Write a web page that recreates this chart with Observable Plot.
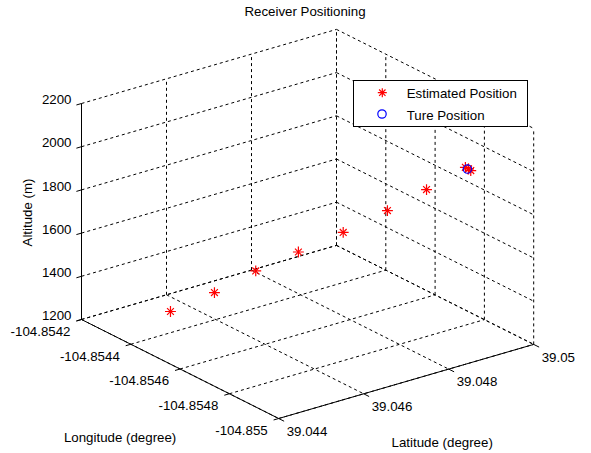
<!DOCTYPE html>
<html><head><meta charset="utf-8">
<script src="https://cdn.jsdelivr.net/npm/d3@7"></script>
<script src="https://cdn.jsdelivr.net/npm/@observablehq/plot@0.6"></script>
<style>
html,body{margin:0;padding:0;background:#fff;}
#wrap{position:relative;width:591px;height:453px;font-family:"Liberation Sans",Arial,sans-serif;overflow:hidden;}
#title{position:absolute;left:305px;top:5px;transform:translateX(-50%);font-size:13.3px;line-height:13.3px;white-space:nowrap;color:#000;}
#legend{position:absolute;left:353px;top:80px;width:175px;height:47px;}
</style></head><body>
<div id="wrap"><div id="chart"></div><div id="title">Receiver Positioning</div><div id="legend"></div></div>
<script>
// ---- data ----
const latTicks = [39.044, 39.046, 39.048, 39.05];
const lonTicks = [-104.8542, -104.8544, -104.8546, -104.8548, -104.855];
const altTicks = [1200, 1400, 1600, 1800, 2000, 2200];
const latTickLabels = ["39.044", "39.046", "39.048", "39.05"];
const lonTickLabels = ["-104.8542", "-104.8544", "-104.8546", "-104.8548", "-104.855"];
const altTickLabels = ["1200", "1400", "1600", "1800", "2000", "2200"];
const estLat = [39.0448, 39.04551, 39.04618, 39.04687, 39.04760, 39.04831, 39.04894, 39.04957, 39.04962, 39.04965];
const estLon = [-104.854423, -104.854479, -104.854531, -104.854585, -104.854641, -104.854698, -104.854748, -104.854797, -104.854801, -104.854805];
const estAlt = [1319, 1398, 1490, 1569, 1650, 1743, 1833, 1928, 1920, 1913];
const trueLat = [39.0496];
const trueLon = [-104.8548];
const trueAlt = [1920];
const seriesNames = ["Estimated Position", "Ture Position"];
const axisTitles = {lat: "Latitude (degree)", lon: "Longitude (degree)", alt: "Altitude (m)"};

// ---- view (orthographic projection of the 3D box) ----
const latMin = d3.min(latTicks), latMax = d3.max(latTicks);
const lonMin = d3.min(lonTicks), lonMax = d3.max(lonTicks);
const altMin = d3.min(altTicks), altMax = d3.max(altTicks);
const view = {ox: 81, oy: 319,
  latDx: 85 / 0.002, latDy: -24.7 / 0.002,
  lonDx: 49.3 / -0.0002, lonDy: 24.75 / -0.0002,
  altDy: -43.2 / 200};
function proj(lat, lon, alt) {
  const a = lat - latMin, b = lon - lonMax, c = alt - altMin;
  return {x: view.ox + a * view.latDx + b * view.lonDx,
          y: view.oy + a * view.latDy + b * view.lonDy + c * view.altDy};
}
function seg(p, q) { const A = proj(...p), B = proj(...q); return {x1: A.x, y1: A.y, x2: B.x, y2: B.y}; }

const grid = [];
for (const lat of latTicks) {
  grid.push(seg([lat, lonMax, altMin], [lat, lonMin, altMin]));
  grid.push(seg([lat, lonMax, altMin], [lat, lonMax, altMax]));
}
for (const lon of lonTicks) {
  grid.push(seg([latMin, lon, altMin], [latMax, lon, altMin]));
  grid.push(seg([latMax, lon, altMin], [latMax, lon, altMax]));
}
for (const alt of altTicks) {
  grid.push(seg([latMin, lonMax, alt], [latMax, lonMax, alt]));
  grid.push(seg([latMax, lonMax, alt], [latMax, lonMin, alt]));
}
const axisLines = [
  seg([latMin, lonMax, altMin], [latMin, lonMax, altMax]),
  seg([latMin, lonMax, altMin], [latMin, lonMin, altMin]),
  seg([latMin, lonMin, altMin], [latMax, lonMin, altMin])
];
const tLat = 0.00012, tLon = 0.000022;
const tickMarks = [
  ...altTicks.map(alt => seg([latMin, lonMax, alt], [latMin - tLat, lonMax, alt])),
  ...lonTicks.map(lon => seg([latMin, lon, altMin], [latMin - tLat, lon, altMin])),
  ...latTicks.map(lat => seg([lat, lonMin, altMin], [lat, lonMin - tLon, altMin]))
];
const altLabels = altTicks.map((alt, i) => ({...proj(latMin, lonMax, alt), t: altTickLabels[i]}));
const lonLabels = lonTicks.map((lon, i) => ({...proj(latMin, lon, altMin), t: lonTickLabels[i]}));
const latLabels = latTicks.map((lat, i) => ({...proj(lat, lonMin, altMin), t: latTickLabels[i]}));
const titles = {
  lon: [{...proj(latMin, (lonMin + lonMax) / 2, altMin), t: axisTitles.lon}],
  lat: [{...proj((latMin + latMax) / 2, lonMin, altMin), t: axisTitles.lat}],
  alt: [{...proj(latMin, lonMax, (altMin + altMax) / 2), t: axisTitles.alt}]
};
const est = estLat.map((lat, i) => proj(lat, estLon[i], estAlt[i]));
const truth = trueLat.map((lat, i) => proj(lat, trueLon[i], trueAlt[i]));

const W = 591, H = 453, FS = 13.3;
const chart = Plot.plot({
  width: W, height: H, margin: 0,
  x: {domain: [0, W], range: [0, W], axis: null},
  y: {domain: [0, H], range: [0, H], axis: null},
  style: {fontFamily: '"Liberation Sans", Arial, sans-serif', fontSize: FS + "px", background: "white", color: "#000"},
  marks: [
    Plot.link(grid, {x1: "x1", y1: "y1", x2: "x2", y2: "y2", stroke: "#000", strokeWidth: 1, strokeDasharray: "3,3"}),
    Plot.link(axisLines, {x1: "x1", y1: "y1", x2: "x2", y2: "y2", stroke: "#000", strokeWidth: 1}),
    Plot.link(tickMarks, {x1: "x1", y1: "y1", x2: "x2", y2: "y2", stroke: "#000", strokeWidth: 1}),
    Plot.text(altLabels, {x: "x", y: "y", text: "t", textAnchor: "end", dx: -10, dy: -3.5, fontSize: FS, fill: "#000"}),
    Plot.text(lonLabels, {x: "x", y: "y", text: "t", textAnchor: "end", dx: -11, dy: 12, fontSize: FS, fill: "#000"}),
    Plot.text(latLabels, {x: "x", y: "y", text: "t", textAnchor: "start", dx: 8, dy: 13, fontSize: FS, fill: "#000"}),
    Plot.text(titles.lon, {x: "x", y: "y", text: "t", dx: -60, dy: 68.5, fontSize: FS, fill: "#000"}),
    Plot.text(titles.lat, {x: "x", y: "y", text: "t", dx: 36, dy: 61, fontSize: FS, fill: "#000"}),
    Plot.text(titles.alt, {x: "x", y: "y", text: "t", dx: -54, dy: 1, rotate: -90, fontSize: FS, fill: "#000"}),
    Plot.dot(est, {x: "x", y: "y", symbol: "plus", r: 3.6, stroke: "#ff0000", strokeWidth: 1.2}),
    Plot.dot(est, {x: "x", y: "y", symbol: "times", r: 3.2, stroke: "#ff0000", strokeWidth: 1.2}),
    Plot.dot(truth, {x: "x", y: "y", symbol: "circle", r: 4.2, stroke: "#0000ff", fill: "none", strokeWidth: 1.2})
  ]
});
document.getElementById("chart").appendChild(chart);

// legend
const L = d3.select("#legend").append("svg").attr("width", 175).attr("height", 47)
  .style("font-family", '"Liberation Sans", Arial, sans-serif').style("font-size", FS + "px");
L.append("rect").attr("x", 0.5).attr("y", 0.5).attr("width", 174).attr("height", 46).attr("fill", "#fff").attr("stroke", "#000");
const sx = 29.3, sy = 12.7;
L.append("path").attr("d", `M${sx-4.5},${sy}H${sx+4.5}M${sx},${sy-4.5}V${sy+4.5}M${sx-3.2},${sy-3.2}L${sx+3.2},${sy+3.2}M${sx-3.2},${sy+3.2}L${sx+3.2},${sy-3.2}`).attr("stroke", "#ff0000").attr("stroke-width", 1.2).attr("fill", "none");
L.append("circle").attr("cx", 29).attr("cy", 34).attr("r", 4.2).attr("stroke", "#0000ff").attr("stroke-width", 1.2).attr("fill", "none");
L.append("text").attr("x", 53.7).attr("y", 18).text(seriesNames[0]);
L.append("text").attr("x", 53.7).attr("y", 39.5).text(seriesNames[1]);
</script>
</body></html>
